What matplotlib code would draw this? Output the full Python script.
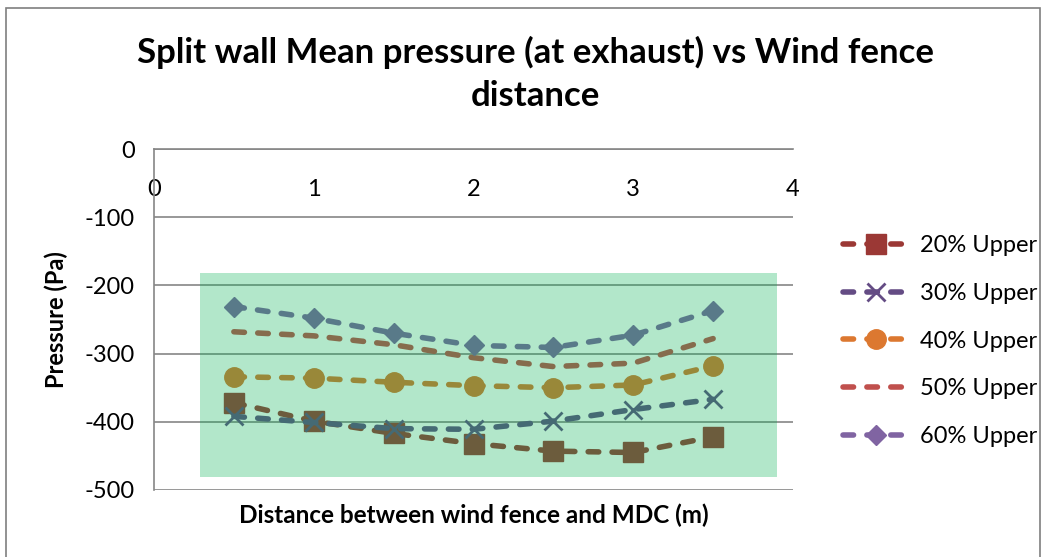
import matplotlib
matplotlib.use("Agg")
import matplotlib.pyplot as plt
from matplotlib.patches import Rectangle

plt.rcParams['font.family'] = ['Lato', 'DejaVu Sans']
plt.rcParams['axes.unicode_minus'] = False

distance = [0.5, 1.0, 1.5, 2.0, 2.5, 3.0, 3.5]
upper20 = [-372, -399, -417, -432, -443, -445, -422]
upper30 = [-392, -401, -410, -411, -399, -382, -367]
upper40 = [-334, -336, -342, -347, -350, -346, -318]
upper50 = [-268, -274, -287, -306, -319, -314, -278]
upper60 = [-231, -248, -270, -288, -291, -273, -237]
labels = ['20% Upper', '30% Upper', '40% Upper', '50% Upper', '60% Upper']
xticks = [0, 1, 2, 3, 4]
yticks = [0, -100, -200, -300, -400, -500]

series = [upper20, upper30, upper40, upper50, upper60]
colors = ['#9B3835', '#644C84', '#DC7830', '#C0504D', '#8064A2']
markers = ['s', 'x', 'o', None, 'D']
msizes = [14, 13, 14, 0, 10]

fig = plt.figure(figsize=(10.5, 5.57), dpi=100)
ax = fig.add_axes([154/1050, 1-490/557, (793-154)/1050, (490-149)/557])

for vals, c, m, ms, lab in zip(series, colors, markers, msizes, labels):
    ax.plot(distance, vals, color=c, lw=4, dashes=(1.9, 2.4),
            dash_capstyle='round', marker=m, markersize=ms,
            markeredgewidth=2 if m == 'x' else 1, markeredgecolor=c,
            markerfacecolor=c, label=lab, zorder=3)

# translucent green highlight box
ax.add_patch(Rectangle((0.288, -481), 3.90 - 0.288, 299, facecolor='#00B050',
                       alpha=0.3, edgecolor='none', zorder=5))

ax.set_xlim(0, 4)
ax.set_ylim(-500, 0)
ax.set_xticks(xticks)
ax.set_yticks(yticks)
ax.yaxis.grid(True, color='#868686', lw=1.2)
ax.set_axisbelow(True)
for s in ['right', 'bottom']:
    ax.spines[s].set_visible(False)
ax.spines['top'].set_color('#868686')
ax.spines['top'].set_linewidth(1.2)
ax.spines['left'].set_color('#868686')
ax.spines['left'].set_linewidth(1.2)
ax.xaxis.set_ticks_position('top')
ax.tick_params(axis='x', length=0, labelsize=17, pad=-37, labeltop=True, labelbottom=False)
ax.tick_params(axis='y', length=0, labelsize=17, pad=14)

ax.set_xlabel('Distance between wind fence and MDC (m)', fontsize=17.5, fontweight='bold')
ax.xaxis.set_label_position('bottom')
ax.xaxis.labelpad = 10
ax.set_ylabel('Pressure (Pa)', fontsize=17, fontweight='bold')
ax.yaxis.labelpad = 12

fig.text(0.51, 1-74/557, 'Split wall Mean pressure (at exhaust) vs Wind fence\ndistance',
         ha='center', va='center', fontsize=25, fontweight='bold', linespacing=1.42)

leg = fig.legend(loc='upper left', bbox_to_anchor=(822/1050, 1-214/557), frameon=False,
                 fontsize=17, handlelength=2.75, labelspacing=1.13, handletextpad=0.5)

fig.patches.append(Rectangle((6/1050, -0.1), 1034/1050, 1.1 - 8/557,
                             transform=fig.transFigure, fill=False,
                             edgecolor='#7F7F7F', lw=1.2))

fig.savefig('out.png', dpi=100)
